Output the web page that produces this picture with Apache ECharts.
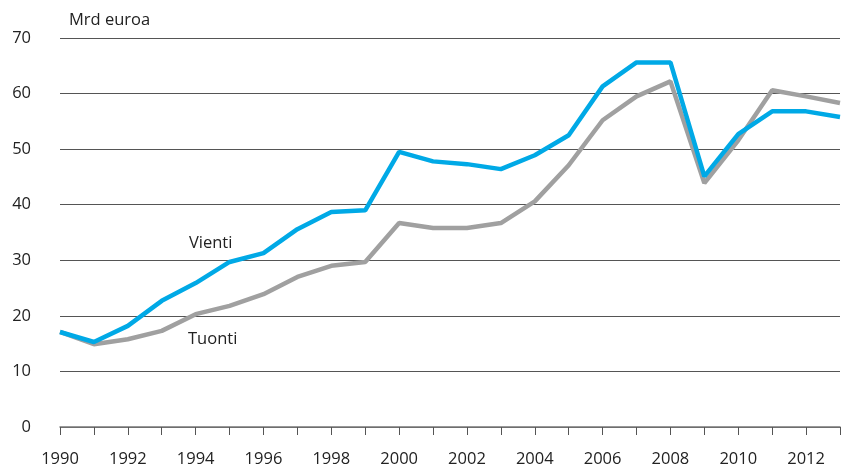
<!DOCTYPE html>
<html><head><meta charset="utf-8">
<script src="https://cdn.jsdelivr.net/npm/echarts@6/dist/echarts.min.js"></script>
<style>html,body{margin:0;padding:0;background:#fff}#c{width:842px;height:471px}</style>
</head><body><div id="c"></div>
<script>
var years = ['1990','1991','1992','1993','1994','1995','1996','1997','1998','1999','2000','2001','2002','2003','2004','2005','2006','2007','2008','2009','2010','2011','2012','2013'];
var vienti = [17.1,15.3,18.2,22.7,25.9,29.7,31.3,35.6,38.7,39.0,49.5,47.8,47.3,46.4,48.9,52.5,61.3,65.6,65.6,45.1,52.7,56.8,56.8,55.8];
var tuonti = [17.1,14.9,15.8,17.3,20.3,21.8,23.9,27.0,29.0,29.7,36.7,35.8,35.8,36.7,40.6,47.1,55.2,59.5,62.2,43.9,51.6,60.6,59.5,58.3];
var yTicks = [0,10,20,30,40,50,60,70];
var font = 'Open Sans';
var fs = 16.5;
var chart = echarts.init(document.getElementById('c'));
chart.setOption({
  animation:false,
  grid:{left:60,right:2,top:38,bottom:44,containLabel:false},
  title:{text:'Mrd euroa',left:64,top:7,textStyle:{fontFamily:font,fontSize:fs,fontWeight:'normal',color:'#222'}},
  xAxis:{type:'category',data:years,boundaryGap:false,
    axisLine:{lineStyle:{color:'#777',width:1.5}},
    axisTick:{show:true,interval:0,length:8,lineStyle:{color:'#555'}},
    axisLabel:{interval:1,margin:24,fontFamily:font,fontSize:fs,color:'#222'},
    splitLine:{show:false}},
  yAxis:{type:'value',min:yTicks[0],max:yTicks[yTicks.length-1],interval:10,
    axisLine:{show:false},axisTick:{show:false},
    axisLabel:{margin:29,fontFamily:font,fontSize:fs,color:'#222'},
    splitLine:{lineStyle:{color:'#555',width:1.2}}},
  series:[
    {name:'Tuonti',type:'line',data:tuonti,symbol:'none',lineStyle:{color:'#A0A0A0',width:4.5},z:2,
     markPoint:{symbol:'circle',symbolSize:0,data:[{coord:['1994',15.7],label:{show:true,formatter:'Tuonti',position:'inside',offset:[17,0],fontFamily:font,fontSize:fs,color:'#222'}}]}},
    {name:'Vienti',type:'line',data:vienti,symbol:'none',lineStyle:{color:'#00A9E6',width:4.5},z:3,
     markPoint:{symbol:'circle',symbolSize:0,data:[{coord:['1994',33.1],label:{show:true,formatter:'Vienti',position:'inside',offset:[15,0],fontFamily:font,fontSize:fs,color:'#222'}}]}}
  ]
});
</script></body></html>
